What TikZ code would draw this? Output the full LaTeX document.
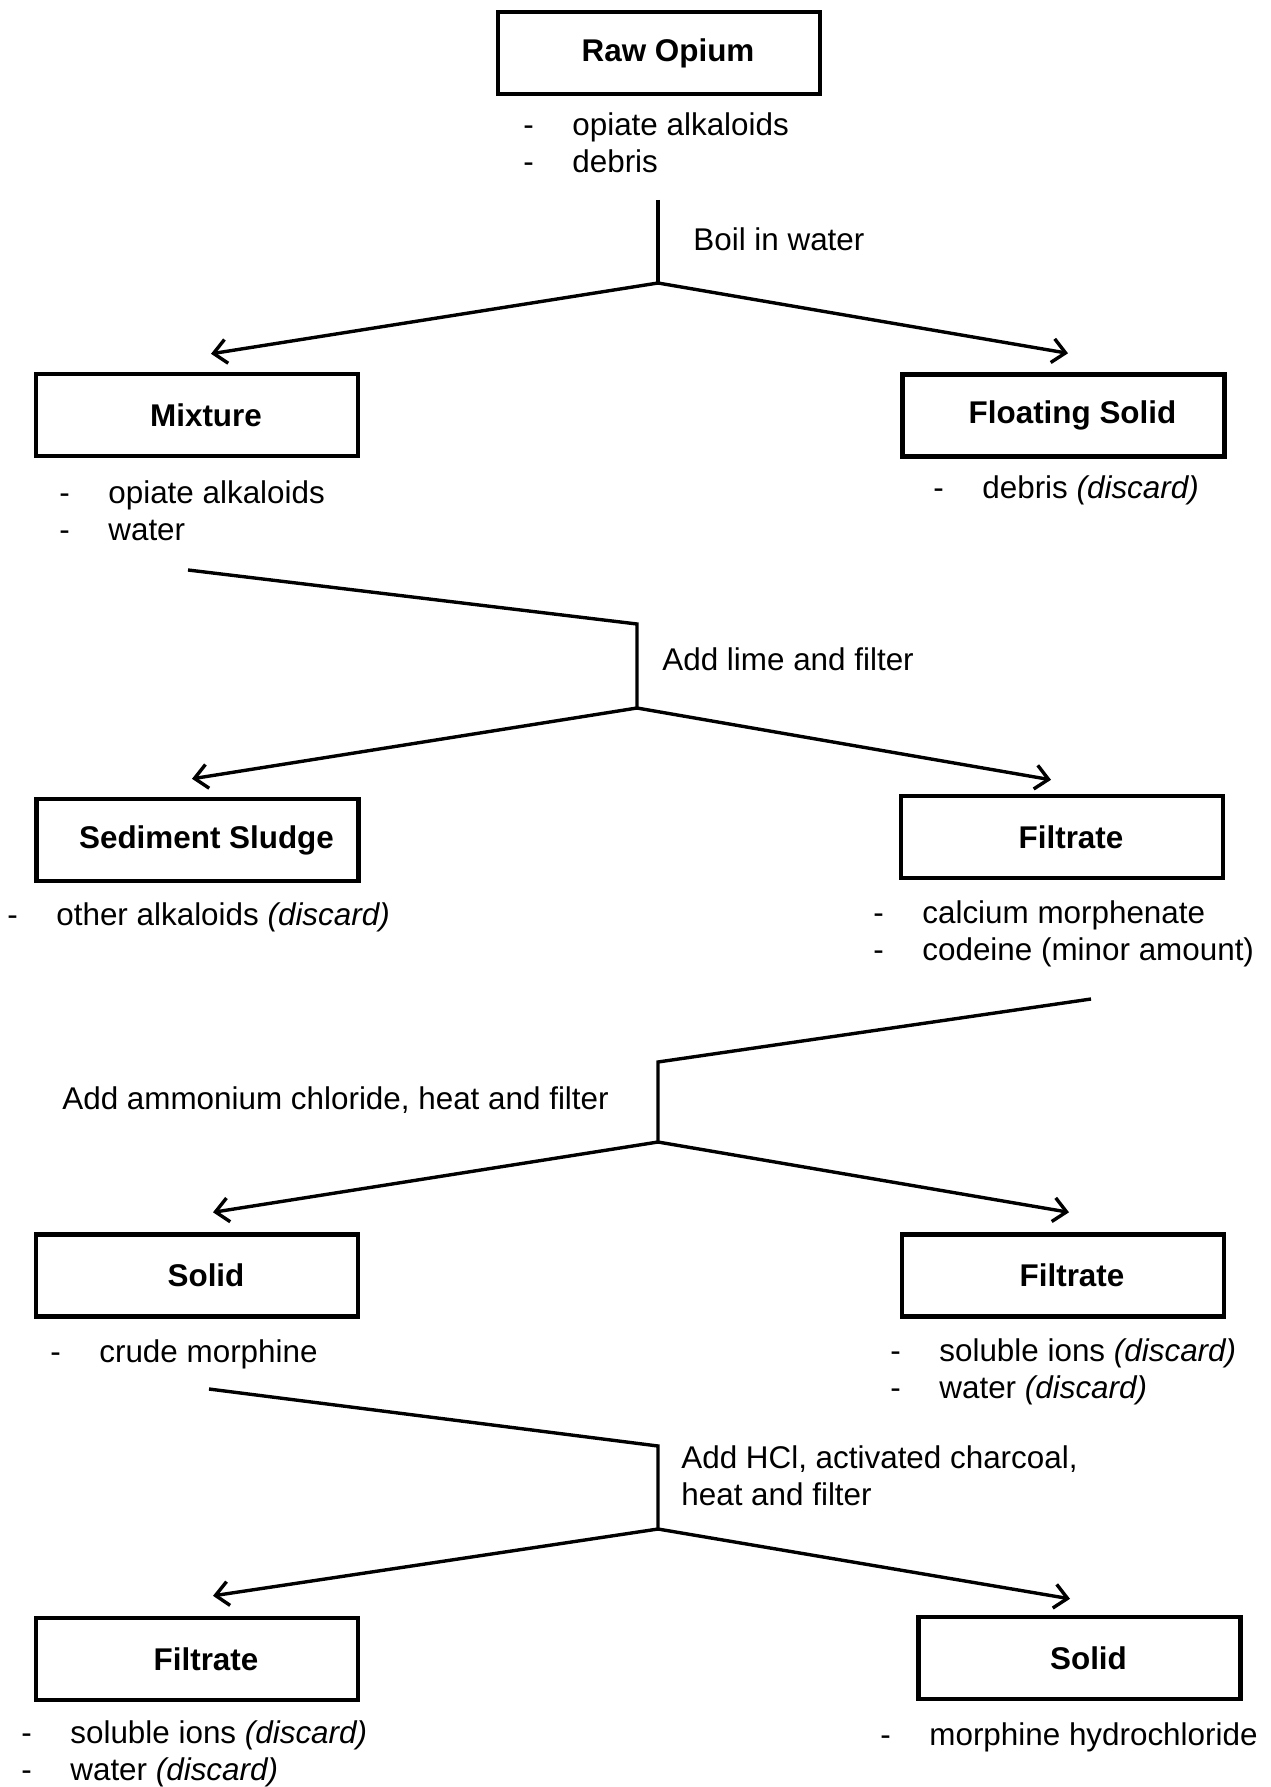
\documentclass[tikz,border=0pt]{standalone}
\usepackage{fontspec}
\setmainfont{Liberation Sans}
\usepackage{tikz}
\usetikzlibrary{arrows.meta}
\tikzset{
    %Define standard arrow tip
    >={Straight Barb[length=6.5pt,width=12pt]},
    %Define style for boxes
    boks/.style={
           rectangle,
           draw=black, line width=2.2pt,
           minimum width=161pt,
           minimum height=41pt,
           font=\fontsize{15.7}{18.5}\selectfont\bfseries,
           execute at begin node={\hspace*{9pt}},
           text centered},
    % Define style for the lists under the boxes
    liste/.style={
           anchor=base west,
           inner sep=0pt},
    trinn/.style={
           anchor=base west,
           inner sep=0pt,
           align=left},
    % Define arrow style
    pil/.style={
           ->,
           line width=1.7pt},
    linje/.style={
           line width=1.7pt,
           line join=miter}
}
\newcommand{\punkter}[1]{\begin{tabular}[t]{@{}p{24.5pt}@{}l@{}}#1\end{tabular}}

\begin{document}
\begin{tikzpicture}[x=0.5pt,y=-0.5pt,font=\fontsize{15.7}{18.5}\selectfont]
\useasboundingbox (0,0) rectangle (1270,1787);
 %boxes
\node[boks](raw) at (659,53){Raw Opium};
\node[boks](mix) at (197,415){Mixture};
\node[boks](float) at (1063.5,415.5){Floating Solid};
\node[boks](sludge) at (197.5,840){Sediment Sludge};
\node[boks](filtA) at (1062,837){Filtrate};
\node[boks](solidA) at (197,1275.5){Solid};
\node[boks](filtB) at (1063,1275.5){Filtrate};
\node[boks](filtC) at (197,1659){Filtrate};
\node[boks](solidB) at (1079.5,1658){Solid};
 %lists
\node[liste](rawlist) at (523,136){\punkter{- & opiate alkaloids\\ - & debris}};
\node[liste](mixlist) at (59,503){\punkter{- & opiate alkaloids\\ - & water}};
\node[liste](floatlist) at (933,498){\punkter{- & debris \textit{(discard)}}};
\node[liste](sludgelist) at (7,925){\punkter{- & other alkaloids \textit{(discard)}}};
\node[liste](filtAlist) at (873,923){\punkter{- & calcium morphenate\\ - & codeine (minor amount)}};
\node[liste](solidAlist) at (50,1362){\punkter{- & crude morphine}};
\node[liste](filtBlist) at (890,1361){\punkter{- & soluble ions \textit{(discard)}\\ - & water \textit{(discard)}}};
\node[liste](filtClist) at (21,1743){\punkter{- & soluble ions \textit{(discard)}\\ - & water \textit{(discard)}}};
\node[liste](solidBlist) at (880,1745){\punkter{- & morphine hydrochloride}};
 %steps
\node[trinn](boil) at (693,250){Boil in water};
\node[trinn](lime) at (662,670){Add lime and filter};
\node[trinn](ammon) at (62,1109){Add ammonium chloride, heat and filter};
\node[trinn](hcl) at (681,1505){Add HCl, activated charcoal,\\heat and filter};
 %branch points
\coordinate (stemA) at (658,200);
\coordinate (splitA) at (658,283);
\coordinate (stemB) at (188,570);
\coordinate (kneeB) at (637,624);
\coordinate (splitB) at (637,708);
\coordinate (stemC) at (1091,999);
\coordinate (kneeC) at (658,1062);
\coordinate (splitC) at (658,1142);
\coordinate (stemD) at (209,1389);
\coordinate (kneeD) at (658,1446);
\coordinate (splitD) at (658,1529);
 %connectors
\draw[linje] (stemA) -- (splitA);
\draw[pil] (splitA) -- ([shift={(14,-18)}]mix.north);
\draw[pil] (splitA) -- ([shift={(4.5,-19)}]float.north);
\draw[linje] (stemB) -- (kneeB) -- (splitB);
\draw[pil] (splitB) -- ([shift={(-5.5,-18)}]sludge.north);
\draw[pil] (splitB) -- ([shift={(-11,-14)}]filtA.north);
\draw[linje] (stemC) -- (kneeC) -- (splitC);
\draw[pil] (splitC) -- ([shift={(16,-20)}]solidA.north);
\draw[pil] (splitC) -- ([shift={(6,-20)}]filtB.north);
\draw[linje] (stemD) -- (kneeD) -- (splitD);
\draw[pil] (splitD) -- ([shift={(16,-20)}]filtC.north);
\draw[pil] (splitD) -- ([shift={(-9.5,-16)}]solidB.north);

\end{tikzpicture}
\end{document}
